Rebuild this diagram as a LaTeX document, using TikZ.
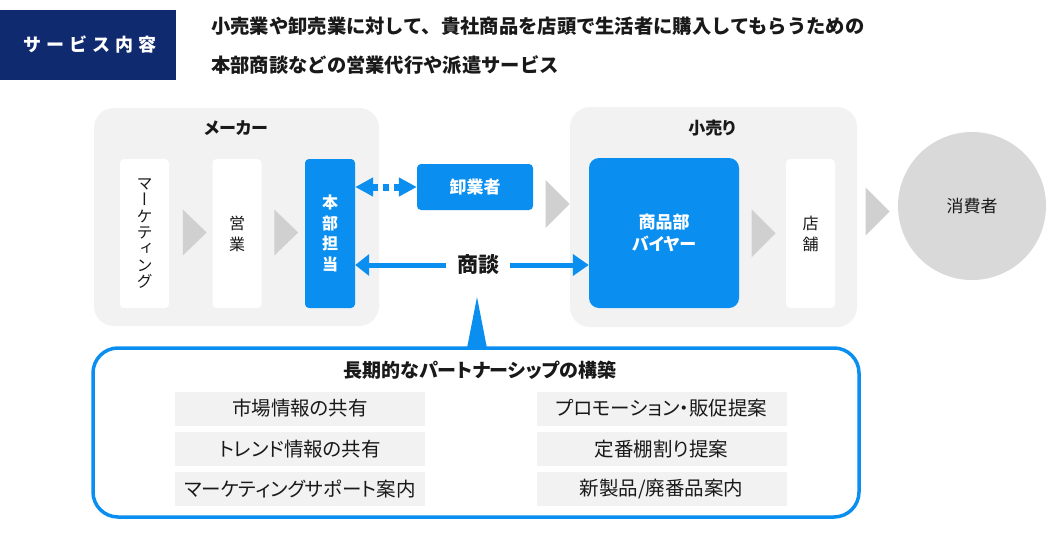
\documentclass[tikz,border=0pt]{standalone}
\usepackage{fontspec}
\usetikzlibrary{arrows.meta,calc}
\newfontfamily\jp{Noto Sans CJK JP}
\newfontfamily\jpp[RawFeature=+palt]{Noto Sans CJK JP}
\newfontfamily\jpv[RawFeature=+vert]{Noto Sans CJK JP}
\newfontfamily\jpls[LetterSpace=28]{Noto Sans CJK JP}
\definecolor{navy}{RGB}{16,42,112}
\definecolor{mblue}{RGB}{10,142,240}
\definecolor{panel}{RGB}{242,242,242}
\definecolor{chevgray}{RGB}{208,208,208}
\definecolor{circgray}{RGB}{217,217,217}
\definecolor{ink}{RGB}{25,25,25}
\tikzset{
  panelbox/.style={fill=panel, rounded corners=20pt, inner sep=0pt},
  whitebox/.style={fill=white, rounded corners=4pt, inner sep=0pt, minimum width=49pt, minimum height=149pt, align=center, text=ink},
  bluebox/.style={fill=mblue, rounded corners=4pt, inner sep=0pt, text=white, align=center},
  itembox/.style={fill=panel, inner sep=0pt, minimum width=250pt, minimum height=34pt, text=ink, font=\jpp\fontsize{19.5}{22}\selectfont},
  titletext/.style={text=ink, font=\jpp\bfseries\fontsize{17}{20}\selectfont},
  chev/.style={fill=chevgray},
  vtext/.style={font=\jpv\fontsize{16}{21}\selectfont},
}
\newcommand\chevron[2]{\fill[chev] (#1) ++(-12,-#2) -- ++(24,#2) -- ++(-24,#2) -- cycle;}
\begin{document}
\begin{tikzpicture}[x=1pt,y=-1pt]
\useasboundingbox (0,0) rectangle (1050,533);
\fill[white] (0,0) rectangle (1050,533);

% header
\node[fill=navy, minimum width=176pt, minimum height=70pt, inner sep=0pt, text=white, font=\jpls\bfseries\fontsize{18}{20}\selectfont] (hdr) at (88,45) {\hspace*{4pt}サービス内容};
\node[anchor=west, text=ink, font=\jp\bfseries\fontsize{19.3}{22}\selectfont, inner sep=0pt] (h1) at (211,26) {小売業や卸売業に対して、貴社商品を店頭で生活者に購入してもらうための};
\node[anchor=west, text=ink, font=\jp\bfseries\fontsize{19.3}{22}\selectfont, inner sep=0pt] (h2) at (211,65) {本部商談などの営業代行や派遣サービス};

% maker panel
\node[panelbox, minimum width=285pt, minimum height=218pt] (maker) at (236.5,217) {};
\node[titletext] (makert) at (236,128) {メーカー};
\node[whitebox, vtext, font=\jpv\fontsize{16}{16.4}\selectfont] (mk) at (144.5,233.5) {マ\\ー\\ケ\\テ\\ィ\\ン\\グ};
\node[whitebox, vtext] (eg) at (237,233.5) {営\\業};
\node[bluebox, minimum width=50pt, minimum height=149pt, font=\jpv\bfseries\fontsize{16}{20.7}\selectfont] (hb) at (330,233.5) {本\\部\\担\\当};

% wholesaler
\node[bluebox, minimum width=116pt, minimum height=46pt, font=\jp\bfseries\fontsize{17}{20}\selectfont] (wh) at (475,187) {卸業者};

% retail panel
\node[panelbox, minimum width=287pt, minimum height=220pt] (retail) at (713.5,217) {};
\node[titletext] (retailt) at (712,128) {小売り};
\node[bluebox, rounded corners=10pt, minimum width=150pt, minimum height=150pt, font=\jpp\bfseries\fontsize{17}{22}\selectfont] (buyer) at (664,233) {商品部\\バイヤー};
\node[whitebox, vtext] (store) at (810.5,233.5) {店\\舗};

% consumer
\node[circle, fill=circgray, minimum size=148pt, inner sep=0pt, text=ink, font=\jp\fontsize{17}{20}\selectfont] (cons) at (972,206) {消費者};

% chevrons
\coordinate (c1) at ($(mk.east)!0.5!(eg.west)+(4,-1)$);
\coordinate (c2) at ($(eg.east)!0.5!(hb.west)+(3,-1)$);
\coordinate (c3) at ($(wh.east)!0.5!(retail.west)+(6,2)$);
\coordinate (c4) at ($(buyer.east)!0.5!(store.west)+(1,0)$);
\coordinate (c5) at ($(retail.east)!0.5!(cons.west)$);
\chevron{c1}{23}
\chevron{c2}{23}
\chevron{c3}{24}
\chevron{c4}{24}
\chevron{c5}{24}

% negotiation
\node[text=ink, font=\jp\bfseries\fontsize{21}{24}\selectfont, inner xsep=11pt] (shodan) at (478,265) {商談};
\draw[mblue, line width=5pt, -{Triangle[length=14pt,width=21pt]}] (shodan.west) -- (hb.east |- shodan.west);
\draw[mblue, line width=5pt, -{Triangle[length=16pt,width=21pt]}] (shodan.east) -- (buyer.west |- shodan.east);
\draw[mblue, line width=7pt, dash pattern=on 6pt off 5pt, {Triangle[length=18pt,width=18pt]}-{Triangle[length=18pt,width=18pt]}] (hb.east |- wh.west) -- (wh.west);

% partnership box
\node[draw=mblue, line width=3.5pt, rounded corners=25pt, minimum width=766pt, minimum height=169pt, inner sep=0pt] (pb) at (476,432.5) {};
\coordinate (apex) at (477,297);
\fill[mblue] ($(pb.north)+(-9,2)$) -- (apex) -- ($(pb.north)+(11,2)$) -- cycle;
\node[text=ink, font=\jpp\bfseries\fontsize{19}{22}\selectfont] (pt) at (480,370) {長期的なパートナーシップの構築};

\node[itembox] (l1) at (300,408.5) {市場情報の共有};
\node[itembox] (l2) at (300,449) {トレンド情報の共有};
\node[itembox] (l3) at (300,489) {マーケティングサポート案内};
\node[itembox] (r1) at (661.5,408.5) {プロモーション・販促提案};
\node[itembox] (r2) at (661.5,449) {定番棚割り提案};
\node[itembox] (r3) at (661.5,489) {新製品/廃番品案内};
\end{tikzpicture}
\end{document}
